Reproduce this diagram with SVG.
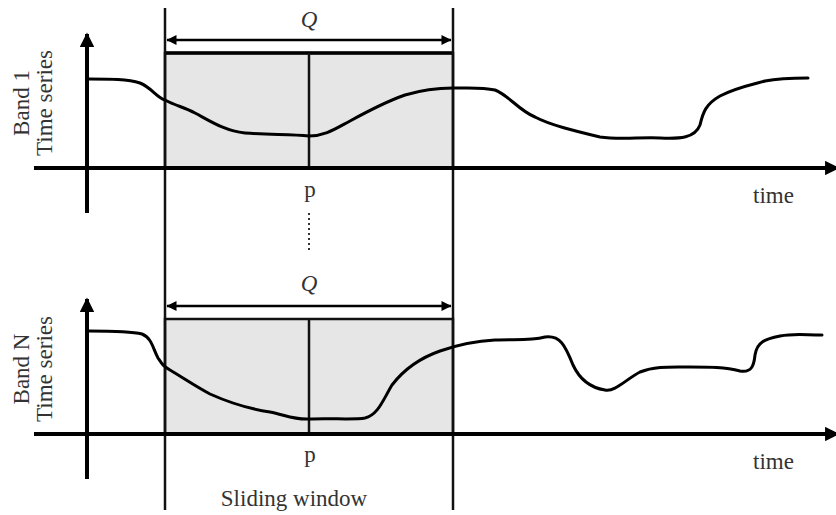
<svg xmlns="http://www.w3.org/2000/svg" width="836" height="515" viewBox="0 0 836 515">
<style>
.lbl{font-family:"Liberation Serif","Times New Roman",serif;font-size:23px;fill:#333}
.q{font-style:italic;text-anchor:middle}
.mid{text-anchor:middle}
.axis{stroke:#000;stroke-width:4;fill:none}
.win{stroke:#111;stroke-width:2.5;fill:none}
.curve{stroke:#000;stroke-width:3;fill:none;stroke-linejoin:round;stroke-linecap:round}
.dim{stroke:#000;stroke-width:2.5;fill:none}
</style>
<defs>
<marker id="ah" viewBox="0 0 10 10" refX="9" refY="5" markerWidth="4" markerHeight="3.6" orient="auto-start-reverse" markerUnits="strokeWidth">
<path d="M0,0 L10,5 L0,10 Z" fill="#000"/>
</marker>
<marker id="dh" viewBox="0 0 10 10" refX="9.5" refY="5" markerWidth="5" markerHeight="4" orient="auto-start-reverse" markerUnits="strokeWidth">
<path d="M0,0 L10,5 L0,10 Z" fill="#000"/>
</marker>
</defs>
<g id="window-boxes">
<rect x="165" y="53" width="288" height="115" fill="#e6e6e6" stroke="#111" stroke-width="2.5"/>
<rect x="165" y="319" width="288" height="115" fill="#e6e6e6" stroke="#111" stroke-width="2.5"/>
<line x1="165" y1="53" x2="453" y2="53" stroke="#000" stroke-width="3.5"/>
</g>
<g id="connectors">
<line class="win" x1="165" y1="8" x2="165" y2="510"/>
<line class="win" x1="453" y1="8" x2="453" y2="510"/>
<line class="win" x1="309" y1="53" x2="309" y2="168"/>
<line class="win" x1="309" y1="319" x2="309" y2="434"/>
<line class="dim" x1="167" y1="40" x2="451" y2="40" marker-start="url(#dh)" marker-end="url(#dh)"/>
<line class="dim" x1="167" y1="306" x2="451" y2="306" marker-start="url(#dh)" marker-end="url(#dh)"/>
<line x1="309" y1="213" x2="309" y2="253" stroke="#333" stroke-width="2" stroke-dasharray="2,3"/>
</g>
<g id="axes-band1">
<line class="axis" x1="87" y1="213" x2="87" y2="34" marker-end="url(#ah)"/>
<line class="axis" x1="34" y1="168" x2="838" y2="168" marker-end="url(#ah)"/>
</g>
<g id="axes-bandN">
<line class="axis" x1="87" y1="479" x2="87" y2="299" marker-end="url(#ah)"/>
<line class="axis" x1="34" y1="434" x2="838" y2="434" marker-end="url(#ah)"/>
</g>
<g id="curve-band1">
<path class="curve" d="M89,79 C110,79 128,79 140,83 C152,88 156,97 165,100 C176,106 184,107 195,113 C210,121 225,131 245,133 C270,135 290,134 309,136 C325,136 335,129 350,121 C370,110 385,102 405,95 C425,89 440,88 453,88 C470,88 482,87 495,90 C510,96 518,110 535,117 C550,125 575,131 600,137 C620,140 640,137 660,138 C680,139 695,138 700,125 C703,112 706,104 720,96 C735,88 750,85 765,81 C780,78 795,78 808,78"/>
</g>
<g id="curve-bandN">
<path class="curve" d="M89,331 C110,331 130,331 142,334 C152,338 153,349 158,358 C162,364 163,366 170,370 C185,379 195,386 210,394 C230,403 250,409 270,412 C285,415 295,420 309,419 C330,418 355,420 365,418 C378,415 383,400 392,385 C405,368 420,358 440,351 C460,344 475,341 495,340 C515,339 530,341 545,337 C560,335 565,345 573,365 C580,380 592,388 605,390 C615,392 625,380 640,372 C655,366 670,367 690,367 C710,367 725,367 740,371 C752,373 754,365 755,355 C757,342 765,339 780,336 C795,333 805,335 822,335"/>
</g>
<g id="labels">
<text class="lbl q" x="309" y="27">Q</text>
<text class="lbl q" x="309" y="291">Q</text>
<text class="lbl mid" x="310" y="197">p</text>
<text class="lbl mid" x="310" y="462">p</text>
<text class="lbl" x="753" y="203">time</text>
<text class="lbl" x="753" y="469">time</text>
<text class="lbl mid" x="294" y="506">Sliding window</text>
<text class="lbl mid" transform="translate(29,103) rotate(-90)">Band 1</text>
<text class="lbl mid" transform="translate(52,103) rotate(-90)">Time series</text>
<text class="lbl mid" transform="translate(29,369) rotate(-90)">Band N</text>
<text class="lbl mid" transform="translate(52,369) rotate(-90)">Time series</text>
</g>
</svg>
